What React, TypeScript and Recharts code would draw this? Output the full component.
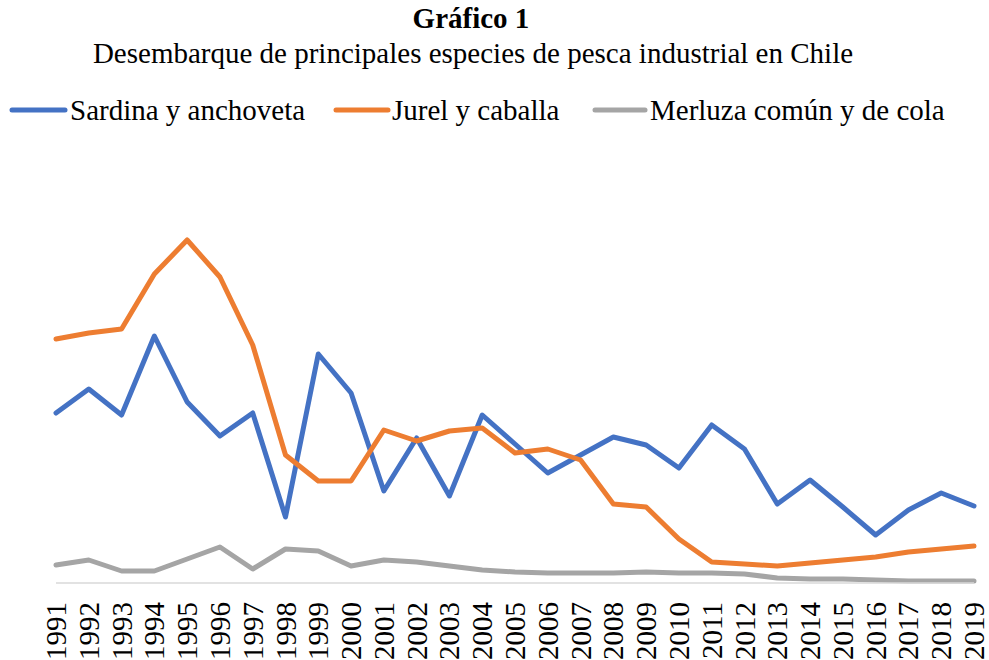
import React from "react";
import { LineChart, Line, XAxis, YAxis } from "recharts";

// Years (categories)
const years = [
  "1991", "1992", "1993", "1994", "1995", "1996", "1997", "1998", "1999", "2000",
  "2001", "2002", "2003", "2004", "2005", "2006", "2007", "2008", "2009", "2010",
  "2011", "2012", "2013", "2014", "2015", "2016", "2017", "2018", "2019",
];

// Series values (relative landing volume; no y-axis shown)
const sardina = [
  170, 194, 168, 247, 181, 147, 170, 66, 229, 190,
  92, 145, 87, 168, 139, 110, 128, 146, 138, 115,
  158, 134, 79, 103, 76, 48, 73, 90, 77,
];
const jurel = [
  244, 250, 254, 309, 343, 306, 238, 128, 102, 102,
  153, 142, 152, 155, 130, 134, 123, 79, 76, 44,
  21, 19, 17, 20, 23, 26, 31, 34, 37,
];
const merluza = [
  18, 23, 12, 12, 24, 36, 14, 34, 32, 17,
  23, 21, 17, 13, 11, 10, 10, 10, 11, 10,
  10, 9, 5, 4, 4, 3, 2, 2, 2,
];

const seriesNames = ["Sardina y anchoveta", "Jurel y caballa", "Merluza común y de cola"];
const seriesColors = ["#4472C4", "#ED7D31", "#A5A5A5"];
const seriesKeys = ["sardina", "jurel", "merluza"];

const title = "Gráfico 1";
const subtitle = "Desembarque de principales especies de pesca industrial en Chile";

const data = years.map((y, i) => ({
  year: y,
  sardina: sardina[i],
  jurel: jurel[i],
  merluza: merluza[i],
}));

const FONT = "'Liberation Serif', 'Times New Roman', serif";

const YearTick = (props: any) => {
  const { x, payload } = props;
  const bx = x + 10;
  const by = 602;
  return (
    <text
      x={bx}
      y={by}
      transform={`rotate(-90, ${bx}, ${by})`}
      textAnchor="end"
      fontFamily={FONT}
      fontSize={29}
      fill="#000"
    >
      {payload.value}
    </text>
  );
};

const legendPos = [
  { lx1: 12, lx2: 65, tx: 70 },
  { lx1: 336, lx2: 388, tx: 392 },
  { lx1: 595, lx2: 645, tx: 650 },
];

export default function App() {
  return (
    <div style={{ position: "absolute", left: 0, top: 0, width: 989, height: 660, background: "#fff" }}>
      <LineChart
        width={989}
        height={660}
        data={data}
        margin={{ top: 183, right: 15, left: 56, bottom: 0 }}
      >
        <XAxis
          dataKey="year"
          interval={0}
          tickLine={false}
          axisLine={{ stroke: "#D9D9D9", strokeWidth: 1.5 }}
          height={77}
          tick={<YearTick />}
        />
        <YAxis hide domain={[0, 400]} />
        {seriesKeys.map((k, i) => (
          <Line
            key={k}
            type="linear"
            dataKey={k}
            name={seriesNames[i]}
            stroke={seriesColors[i]}
            strokeWidth={5}
            strokeLinejoin="round"
            strokeLinecap="round"
            dot={false}
            activeDot={false}
            isAnimationActive={false}
          />
        ))}
      </LineChart>
      <svg
        width={989}
        height={140}
        style={{ position: "absolute", left: 0, top: 0, pointerEvents: "none" }}
      >
        <text x={471} y={28} textAnchor="middle" fontFamily={FONT} fontSize={29} fontWeight="bold" fill="#000">
          {title}
        </text>
        <text x={473} y={63} textAnchor="middle" fontFamily={FONT} fontSize={29} fill="#000">
          {subtitle}
        </text>
        {seriesNames.map((n, i) => (
          <g key={n}>
            <line
              x1={legendPos[i].lx1}
              x2={legendPos[i].lx2}
              y1={110}
              y2={110}
              stroke={seriesColors[i]}
              strokeWidth={5}
              strokeLinecap="round"
            />
            <text x={legendPos[i].tx} y={120} fontFamily={FONT} fontSize={29} fill="#000">
              {n}
            </text>
          </g>
        ))}
      </svg>
    </div>
  );
}
